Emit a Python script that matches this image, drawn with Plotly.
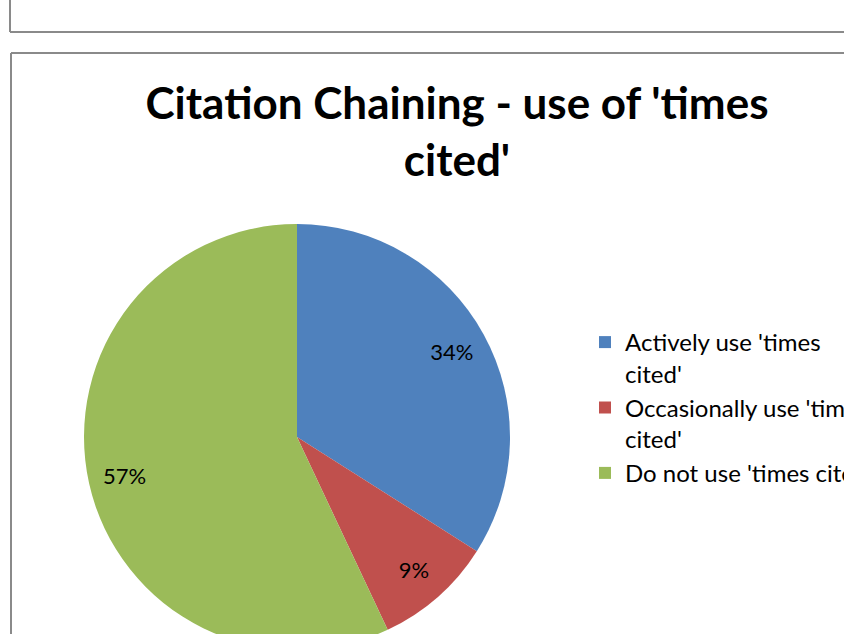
import plotly.graph_objects as go

categories = ["Actively use 'times<br>cited'", "Occasionally use 'times<br>cited'", "Do not use 'times cited'"]
values = [34, 9, 57]
colors = ["#4F81BD", "#C0504D", "#9BBB59"]
title_text = "Citation Chaining - use of 'times<br>cited'"

W, H = 1000, 700

def px(x):
    return x / W

def py(y):
    return 1 - y / H

dom = dict(x=[px(84), px(510)], y=[py(650), py(224)])

fig = go.Figure()
fig.add_trace(go.Pie(
    labels=categories,
    values=values,
    marker=dict(colors=colors, line=dict(width=0)),
    sort=False,
    direction="clockwise",
    rotation=0,
    textinfo="none",
    domain=dom,
    hoverinfo="label+percent",
))
# transparent ring carrying the percentage labels further out, like Excel
fig.add_trace(go.Pie(
    labels=categories,
    values=values,
    hole=0.66,
    marker=dict(colors=["rgba(0,0,0,0)"] * len(values), line=dict(width=0)),
    sort=False,
    direction="clockwise",
    rotation=0,
    textinfo="percent",
    textposition="inside",
    insidetextorientation="horizontal",
    textfont=dict(family="Lato", size=22, color="black"),
    domain=dom,
    showlegend=False,
    hoverinfo="skip",
))

line_col = "#8a8a8a"
shapes = [
    dict(type="line", xref="paper", yref="paper", x0=px(10), x1=px(10), y0=py(-5), y1=py(32), line=dict(color=line_col, width=2)),
    dict(type="line", xref="paper", yref="paper", x0=px(10), x1=1, y0=py(32), y1=py(32), line=dict(color=line_col, width=2)),
    dict(type="line", xref="paper", yref="paper", x0=px(11), x1=1, y0=py(53), y1=py(53), line=dict(color=line_col, width=2)),
    dict(type="line", xref="paper", yref="paper", x0=px(11), x1=px(11), y0=py(53), y1=0, line=dict(color=line_col, width=2)),
]

fig.update_layout(
    width=W, height=H,
    margin=dict(l=0, r=0, t=0, b=0),
    paper_bgcolor="white",
    plot_bgcolor="white",
    shapes=shapes,
    title=dict(text="<b>" + title_text + "</b>", x=px(457), xanchor="center", y=py(119), yanchor="top",
               font=dict(family="Lato", size=44, color="black")),
    legend=dict(x=px(585), y=py(320), xanchor="left", yanchor="top", valign="top",
                font=dict(family="Lato", size=24, color="black"), bgcolor="rgba(0,0,0,0)"),
    showlegend=True,
)

fig.write_html("out.html", post_script="document.body.style.margin='0';document.body.style.overflow='hidden';")
